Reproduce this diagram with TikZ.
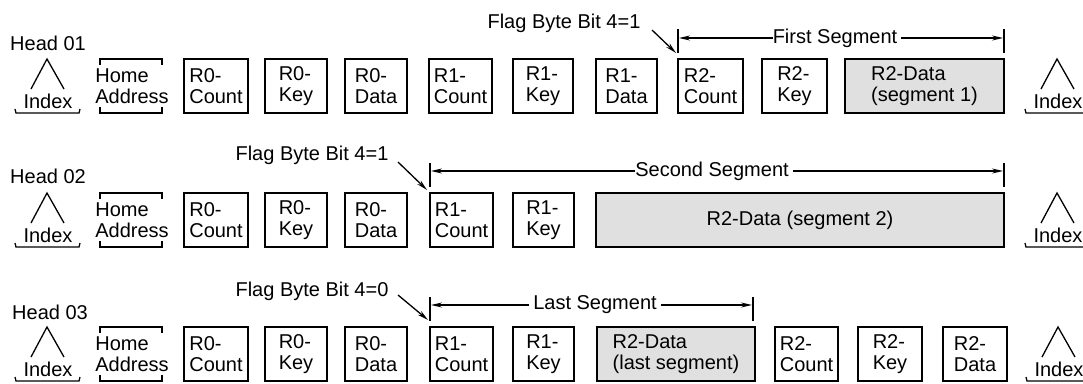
\documentclass[tikz,border=0pt]{standalone}
\usepackage{fontspec}
\setmainfont{Liberation Sans}
\usetikzlibrary{arrows.meta}
\newcommand\rbox[6]{\node[#1, minimum width={#4-#3}] (#2) at ({(#3+#4)/2},#5) {#6};}
\newcommand\idx[3]{%
  \draw[thinln] ({#2-16},{#3+30}) -- (#2,#3) -- ({#2+17},{#3+30});
  \draw[thinln] ({#2-32},{#3+50}) -- ({#2-31},{#3+54}) -- ({#2+32},{#3+54}) -- ({#2+33},{#3+50});
  \node[txt] (#1) at ({#2+1},{#3+42}) {Index};}
\newcommand\home[2]{%
  \draw[thinln] (100,{#2+6}) -- (100,#2) -- (162,#2) -- (162,{#2+6});
  \draw[thinln] (100,{#2+48}) -- (100,{#2+54}) -- (162,{#2+54}) -- (162,{#2+48});
  \node[txt, align=left] (#1) at (132,{#2+27}) {Home\\Address};}
\begin{document}
\begin{tikzpicture}[x=1pt,y=-1pt,
  txt/.style={font=\fontsize{20}{21}\selectfont, inner sep=0pt},
  rec/.style={draw, line width=1.6pt, inner sep=0pt, minimum height=54pt, align=left, txt},
  shd/.style={rec, fill=black!12},
  thinln/.style={line width=1.3pt},
  arr/.style={line width=1.3pt, -{Stealth[length=11pt,width=5pt]}}]
\useasboundingbox (0,0) rectangle (1083,383);

% ---------------- Row 1 ----------------
\node[txt, anchor=west] (h1) at (10,43) {Head 01};
\idx{i1l}{47}{59}
\home{ha1}{59}
\rbox{rec}{r0c1}{184}{248}{86}{R0-\\Count}
\rbox{rec}{r0k1}{265}{327}{86}{R0-\\Key}
\rbox{rec}{r0d1}{345}{407}{86}{R0-\\Data}
\rbox{rec}{r1c1}{429}{492}{86}{R1-\\Count}
\rbox{rec}{r1k1}{513}{573}{86}{R1-\\Key}
\rbox{rec}{r1d1}{596}{657}{86}{R1-\\Data}
\rbox{rec}{r2c1}{678}{743}{86}{R2-\\Count}
\rbox{rec}{r2k1}{762}{827}{86}{R2-\\Key}
\rbox{shd}{r2d1}{845}{1004}{86}{R2-Data\\(segment 1)}
\idx{i1r}{1057}{59}

\node[txt] (flag1) at (564,23) {Flag Byte Bit 4=1};
\coordinate (f1s) at (652,30);
\coordinate (f1e) at (676,53);
\draw[arr] (f1s) -- (f1e);
\draw[thinln] (678,29) -- (678,53);
\draw[thinln] (1004,29) -- (1004,53);
\coordinate (s1l) at (679,38);
\coordinate (s1r) at (1003,38);
\node[txt] (seg1) at (835,38) {First Segment};
\draw[arr] (seg1.west) -- (s1l);
\draw[arr, shorten <=4pt] (seg1.east) -- (s1r);

% ---------------- Row 2 ----------------
\node[txt, anchor=west] (h2) at (10,176) {Head 02};
\idx{i2l}{47}{193}
\home{ha2}{193}
\rbox{rec}{r0c2}{184}{248}{220}{R0-\\Count}
\rbox{rec}{r0k2}{265}{327}{220}{R0-\\Key}
\rbox{rec}{r0d2}{345}{407}{220}{R0-\\Data}
\rbox{rec}{r1c2}{430}{493}{220}{R1-\\Count}
\rbox{rec}{r1k2}{513}{574}{220}{R1-\\Key}
\rbox{shd}{r2d2}{596}{1004}{220}{R2-Data (segment 2)}
\idx{i2r}{1057}{193}

\node[txt] (flag2) at (312,155) {Flag Byte Bit 4=1};
\coordinate (f2s) at (398,162);
\coordinate (f2e) at (427,190);
\draw[arr] (f2s) -- (f2e);
\draw[thinln] (430,163) -- (430,187);
\draw[thinln] (1004,163) -- (1004,187);
\coordinate (s2l) at (431,171);
\coordinate (s2r) at (1003,171);
\node[txt] (seg2) at (712,171) {Second Segment};
\draw[arr] (seg2.west) -- (s2l);
\draw[arr, shorten <=4pt] (seg2.east) -- (s2r);

% ---------------- Row 3 ----------------
\node[txt, anchor=west] (h3) at (12,312) {Head 03};
\idx{i3l}{47}{327}
\home{ha3}{327}
\rbox{rec}{r0c3}{184}{248}{354}{R0-\\Count}
\rbox{rec}{r0k3}{265}{327}{354}{R0-\\Key}
\rbox{rec}{r0d3}{345}{407}{354}{R0-\\Data}
\rbox{rec}{r1c3}{430}{493}{354}{R1-\\Count}
\rbox{rec}{r1k3}{513}{574}{354}{R1-\\Key}
\rbox{shd}{r2d3}{597}{755}{354}{R2-Data\\(last segment)}
\rbox{rec}{r2c3}{775}{838}{354}{R2-\\Count}
\rbox{rec}{r2k3}{858}{922}{354}{R2-\\Key}
\rbox{rec}{r2dd3}{943}{1007}{354}{R2-\\Data}
\idx{i3r}{1058}{327}

\node[txt] (flag3) at (312,291) {Flag Byte Bit 4=0};
\coordinate (f3s) at (398,295);
\coordinate (f3e) at (428,320);
\draw[arr] (f3s) -- (f3e);
\draw[thinln] (430,297) -- (430,321);
\draw[thinln] (753,297) -- (753,321);
\coordinate (s3l) at (431,305);
\coordinate (s3r) at (752,305);
\node[txt] (seg3) at (595,305) {Last Segment};
\draw[arr, shorten <=4pt] (seg3.west) -- (s3l);
\draw[arr, shorten <=4pt] (seg3.east) -- (s3r);
\end{tikzpicture}
\end{document}
